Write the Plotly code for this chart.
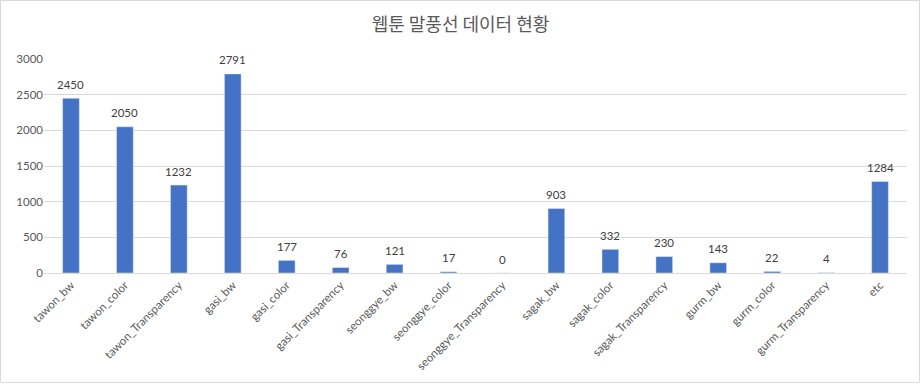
import plotly.graph_objects as go

categories = ["tawon_bw", "tawon_color", "tawon_Transparency", "gasi_bw", "gasi_color",
              "gasi_Transparency", "seonggye_bw", "seonggye_color", "seonggye_Transparency",
              "sagak_bw", "sagak_color", "sagak_Transparency", "gurm_bw", "gurm_color",
              "gurm_Transparency", "etc"]
values = [2450, 2050, 1232, 2791, 177, 76, 121, 17, 0, 903, 332, 230, 143, 22, 4, 1284]
y_ticks = [0, 500, 1000, 1500, 2000, 2500, 3000]
title = "웹툰 말풍선 데이터 현황"

W, H = 921, 384
L, R, T, B = 44, 14, 59, 111
pw, ph = W - L - R, H - T - B

fig = go.Figure(go.Bar(x=categories, y=values, marker_color="#4472C4", cliponaxis=False))

annotations = [dict(x=c, y=v, xref="x", yref="y", text=str(v), showarrow=False,
                    yanchor="middle", yshift=14,
                    font=dict(color="#404040", size=11.5, family="Lato, Liberation Sans, sans-serif"))
               for c, v in zip(categories, values)]

fig.update_layout(
    width=W, height=H,
    margin=dict(l=L, r=R, t=T, b=B, autoexpand=False),
    paper_bgcolor="white", plot_bgcolor="white",
    bargap=0.69,
    showlegend=False,
    title=dict(text=title, x=0.5, xanchor="center", y=1 - 25 / H, yanchor="middle",
               font=dict(family="Noto Sans CJK KR", size=18, color="#595959")),
    font=dict(family="Lato, Liberation Sans, sans-serif", size=11, color="#595959"),
    xaxis=dict(tickangle=-45, showline=True, linecolor="#d9d9d9", linewidth=1,
               ticks="", showgrid=False,
               tickfont=dict(size=11.5, color="#595959")),
    yaxis=dict(range=[0, 3000], tickvals=y_ticks, showgrid=True, gridcolor="#d9d9d9",
               gridwidth=1, zeroline=False, ticks="", showline=False,
               tickfont=dict(size=11.5, color="#595959")),
    annotations=annotations,
    shapes=[dict(type="rect", xref="paper", yref="paper",
                 x0=(0.5 - L) / pw, x1=(919.5 - L) / pw,
                 y0=(H - B - 382.5) / ph, y1=(H - B - 0.5) / ph,
                 line=dict(color="#d9d9d9", width=1), fillcolor="rgba(0,0,0,0)")],
)

fig.write_html("out.html")
